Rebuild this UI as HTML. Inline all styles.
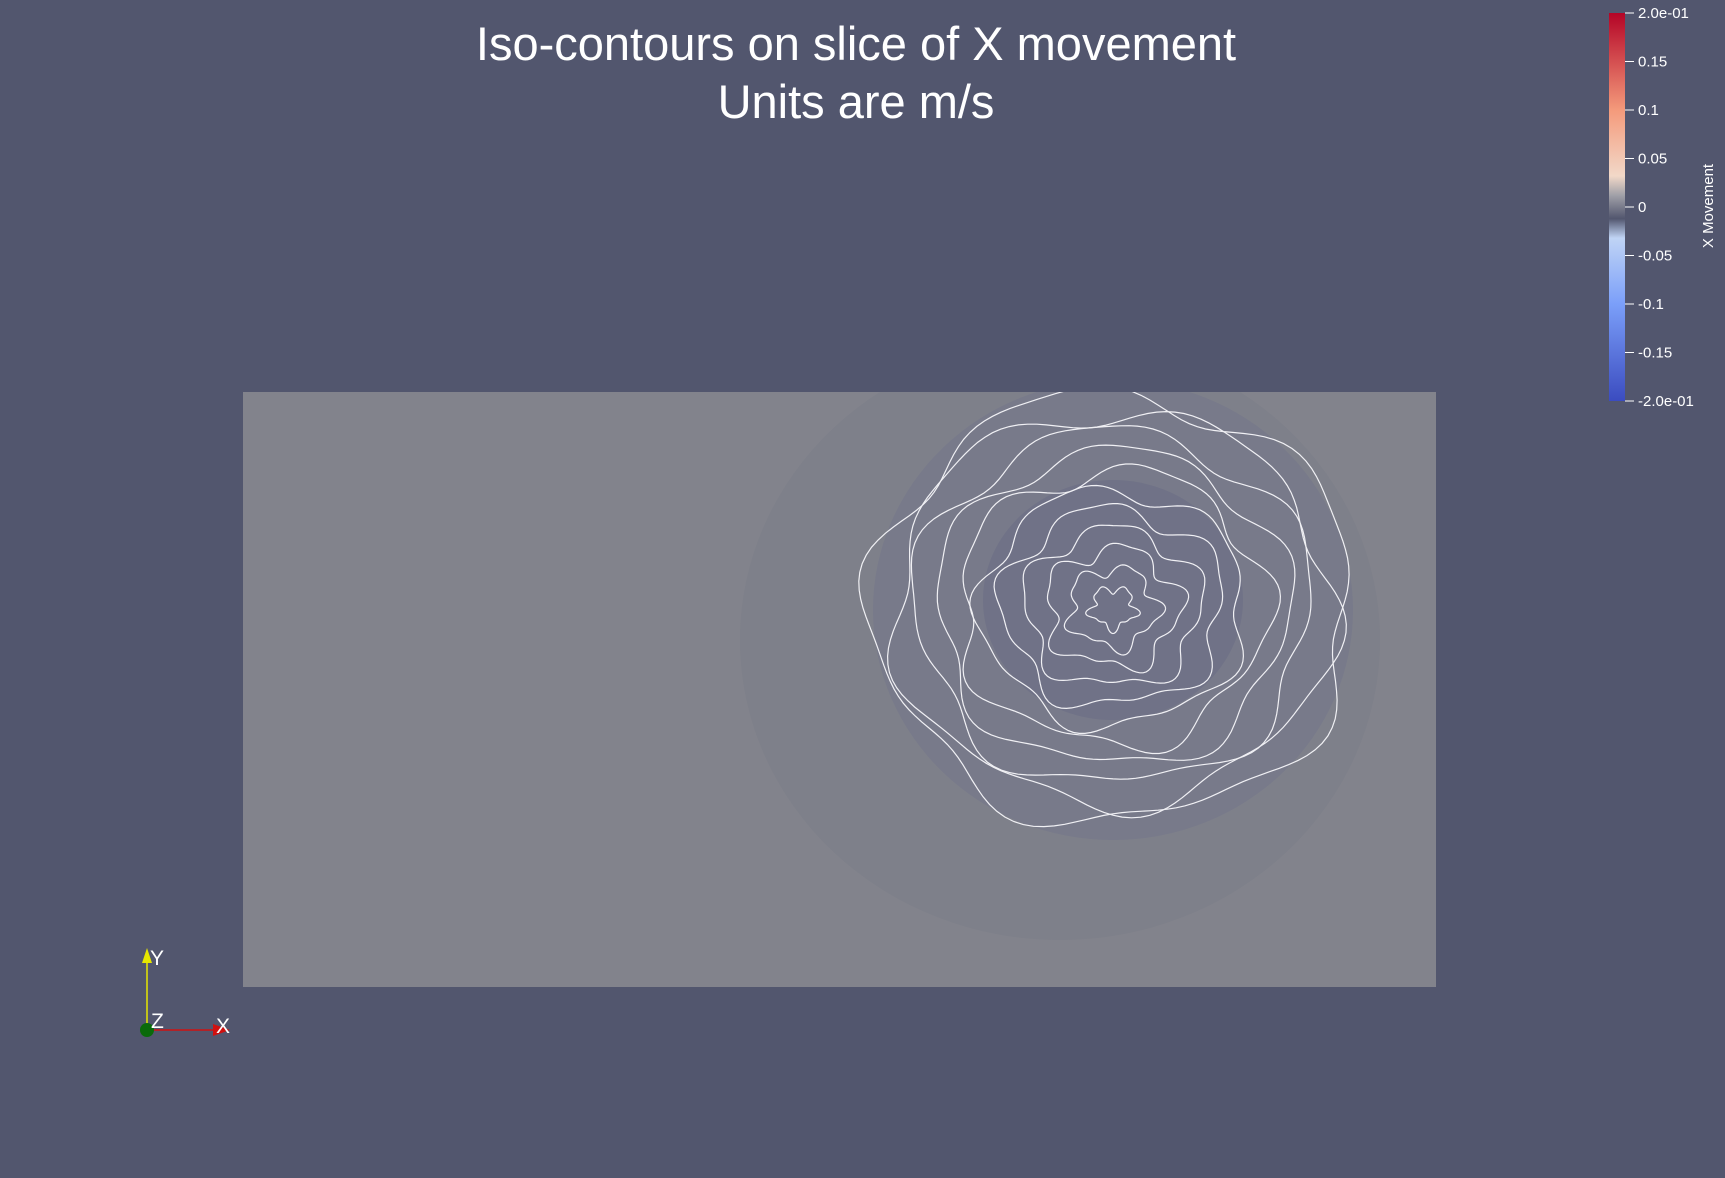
<!DOCTYPE html>
<html><head><meta charset="utf-8"><style>
html,body{margin:0;padding:0;background:#52566e;width:1725px;height:1178px;overflow:hidden;font-family:"Liberation Sans",sans-serif;}
.t{position:absolute;color:#fff;white-space:nowrap;}
</style></head><body>
<div class="t" style="left:0;width:1712px;text-align:center;top:15px;font-size:47px;line-height:58px;">Iso-contours on slice of X movement<br>Units are m/s</div>
<svg width="1725" height="1178" style="position:absolute;left:0;top:0">
<defs>
<linearGradient id="cb" x1="0" y1="1" x2="0" y2="0">
<stop offset="0" stop-color="#3b4cc0"/><stop offset="0.25" stop-color="#7b9ff9"/><stop offset="0.42" stop-color="#c0d4f5"/>
<stop offset="0.47" stop-color="#52566e"/><stop offset="0.53" stop-color="#a0a0a8"/><stop offset="0.58" stop-color="#f2d8c8"/>
<stop offset="0.75" stop-color="#f49a7b"/><stop offset="1" stop-color="#b40426"/></linearGradient>
<clipPath id="clip"><rect x="243" y="392" width="1193" height="595"/></clipPath>
</defs>
<rect x="243" y="392" width="1193" height="595" fill="#82838c"/>
<g clip-path="url(#clip)" id="field"></g>
<rect x="1609" y="13" width="16" height="388" fill="url(#cb)"/>
<g id="cbticks"></g>
<text x="1713" y="206" fill="#fff" font-size="15" transform="rotate(-90 1713 206)" text-anchor="middle">X Movement</text>
<g>
<line x1="147" y1="1030" x2="147" y2="958" stroke="#e6e600" stroke-width="1.5"/>
<polygon points="142,963 152,963 147,948" fill="#e6e600"/>
<line x1="147" y1="1030" x2="215" y2="1030" stroke="#d01010" stroke-width="1.5"/>
<polygon points="213,1024 213,1036 230,1030" fill="#d01010"/>
<circle cx="147" cy="1030" r="7" fill="#0a6a0a"/>
<text x="150" y="965" fill="#fff" font-size="21">Y</text>
<text x="216" y="1033" fill="#fff" font-size="21">X</text>
<text x="151" y="1028" fill="#fff" font-size="21">Z</text>
</g>
</svg>
<script>
const tickValues=[0.2,0.15,0.1,0.05,0,-0.05,-0.1,-0.15,-0.2];
const tickLabels=["2.0e-01","0.15","0.1","0.05","0","-0.05","-0.1","-0.15","-2.0e-01"];
const ringRadii=[20,40,60,80,100,120,140,160,180,200,218];
const ringWobble=[4,6,8,8,9,8,10,9,10,10,12];
const ringPhase=[0,1,2,3,4,5,1.5,2.5,3.5,0.5,4.5];
const ns='http://www.w3.org/2000/svg';
function yCb(v){return 13+(0.2-v)/0.4*388;}
const cg=document.getElementById('cbticks');
tickValues.forEach((v,i)=>{
 const l=document.createElementNS(ns,'line');
 l.setAttribute('x1',1625);l.setAttribute('x2',1634);l.setAttribute('y1',yCb(v));l.setAttribute('y2',yCb(v));
 l.setAttribute('stroke','#fff');
 
 
 cg.appendChild(l);
 const t=document.createElementNS(ns,'text');
 t.setAttribute('x',1638);t.setAttribute('y',yCb(v)+5);t.setAttribute('fill','#fff');t.setAttribute('font-size','15');
 t.textContent=tickLabels[i];
 
 
 cg.appendChild(t);
});
const f=document.getElementById('field');
const cx=1113,cy=608;
[[1060,640,320,300,'#7c7e89',0.6],[1113,610,240,230,'#75778a',0.6],[1113,600,130,120,'#6c6f86',0.7]].forEach(e=>{
 const el=document.createElementNS(ns,'ellipse');
 el.setAttribute('cx',e[0]);el.setAttribute('cy',e[1]);el.setAttribute('rx',e[2]);el.setAttribute('ry',e[3]);el.setAttribute('fill',e[4]);el.setAttribute('opacity',e[5]);
 
 
 f.appendChild(el);
});
ringRadii.forEach((r,i)=>{
 let d='';
 for(let k=0;k<=160;k++){
  const a=k/160*2*Math.PI;
  const rr=r+ringWobble[i]*Math.sin(5*a+ringPhase[i])+ringWobble[i]*0.5*Math.sin(9*a+ringPhase[i]*2);
  const x=cx+rr*Math.cos(a)*1.1, y=cy+rr*Math.sin(a)*0.98;
  d+=(k?'L':'M')+x.toFixed(1)+','+y.toFixed(1);
 }
 const p=document.createElementNS(ns,'path');
 p.setAttribute('d',d);p.setAttribute('fill','none');p.setAttribute('stroke','#f0f0f4');p.setAttribute('stroke-width','1.2');
 
 
 f.appendChild(p);
});
</script>
</body></html>
